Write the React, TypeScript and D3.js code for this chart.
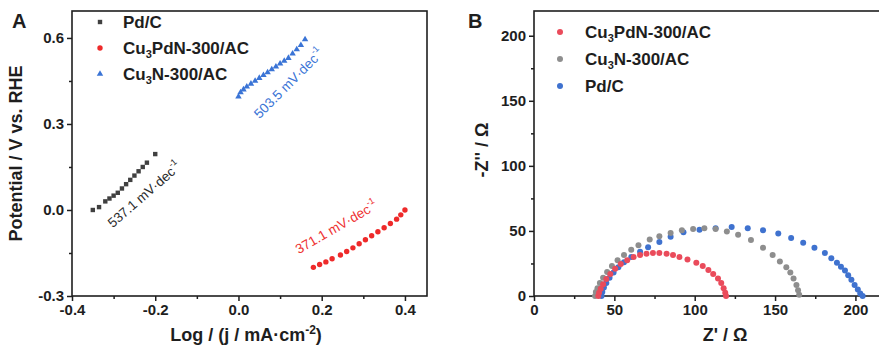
import React, { useEffect, useRef } from "react";
import * as d3 from "d3";

// Tafel data (Log j, potential)
const tafelPdC: [number, number][] = [
  [-0.35, 0.0], [-0.335, 0.01], [-0.32, 0.03], [-0.31, 0.04], [-0.3, 0.05], [-0.29, 0.06],
  [-0.28, 0.075], [-0.27, 0.09], [-0.26, 0.105], [-0.25, 0.12], [-0.24, 0.135],
  [-0.23, 0.15], [-0.22, 0.165], [-0.2, 0.195],
];
const tafelCu3PdN: [number, number][] = [
  [0.18, -0.2], [0.195, -0.19], [0.21, -0.181], [0.225, -0.17], [0.245, -0.157], [0.26, -0.145],
  [0.275, -0.132], [0.29, -0.118], [0.305, -0.104], [0.32, -0.09], [0.335, -0.076],
  [0.35, -0.062], [0.365, -0.047], [0.38, -0.032], [0.39, -0.017], [0.4, 0.0],
];
const tafelCu3N: [number, number][] = [
  [0.0, 0.395], [0.005, 0.41], [0.012, 0.42], [0.02, 0.43], [0.03, 0.44], [0.04, 0.45],
  [0.05, 0.46], [0.06, 0.47], [0.07, 0.48], [0.08, 0.49], [0.09, 0.5], [0.1, 0.51],
  [0.11, 0.52], [0.12, 0.53], [0.13, 0.545], [0.14, 0.56], [0.15, 0.575], [0.16, 0.595],
];
const tafelNotes = [
  { text: "537.1 mV·dec", x: -0.225, y: 0.052, angle: -41, color: "#2b2b2b" },
  { text: "503.5 mV·dec", x: 0.122, y: 0.44, angle: -45, color: "#3a74d6" },
  { text: "371.1 mV·dec", x: 0.236, y: -0.062, angle: -30, color: "#ee3333" },
];
const tafelXTicks = [-0.4, -0.2, 0.0, 0.2, 0.4];
const tafelYTicks = [-0.3, 0.0, 0.3, 0.6];

// Nyquist data (Z', -Z'')
const eisCu3PdN: [number, number][] = [
  [40, 0], [40.5, 2.5], [41.5, 5.5], [43, 9], [45, 13], [47.5, 17], [50.5, 21], [54, 24.5],
  [58, 27.5], [62, 30], [66, 31.5], [70, 32.5], [74, 33], [78, 33], [82.5, 32.5], [86.5, 31.5],
  [90.5, 30], [95.5, 28], [101, 25.5], [105, 23], [108.5, 20], [111.5, 17], [114.5, 13.5],
  [116.5, 10], [118, 6], [119, 2.5], [119.5, 0],
];
const eisCu3N: [number, number][] = [
  [38, 0], [38.5, 3], [39.5, 6], [41, 10], [43, 14], [45.5, 18.5], [48.5, 23], [52, 27.5],
  [56, 31.5], [60.5, 35.5], [65, 39], [72, 43.5], [78, 46], [85, 48.5], [92, 50.5], [99, 51.5],
  [106, 52], [113, 51.5], [120, 49.5], [127, 47], [135, 43], [142.5, 37], [148.5, 31.5],
  [153, 26.5], [157, 22], [159.5, 18], [161.5, 13.5], [163.3, 8.5], [164.3, 4.5], [165, 1],
];
const eisPdC: [number, number][] = [
  [42, 0], [42.5, 3], [43.5, 6.5], [45, 10], [47, 14], [49.5, 18], [52.5, 22], [56, 26],
  [60.5, 30], [66, 34], [71, 37.5], [78, 41.5], [85, 45.5], [93, 49], [103, 51], [113, 52],
  [123, 53], [133, 52], [142.5, 50.5], [152, 48], [160, 44.5], [167.5, 41], [174.5, 37],
  [181, 33], [185, 29], [188.5, 25.5], [191, 22.5], [193.5, 19.5], [195.5, 16], [197.5, 12.5],
  [199.5, 8.5], [201.5, 5], [203, 2], [204.5, 0],
];
const eisXTicks = [0, 50, 100, 150, 200];
const eisYTicks = [0, 50, 100, 150, 200];

const FONT = "'Liberation Sans', Arial, sans-serif";
const INK = "#1e1e1e";

const App = () => {
  const svgRef = useRef<SVGSVGElement>(null);

  useEffect(() => {
    const svg = d3.select(svgRef.current);
    svg.selectAll("*").remove();
    svg.attr("font-family", FONT);

    const frame = (g: any, x0: number, x1: number, y0: number, y1: number) => {
      g.append("rect")
        .attr("x", x0).attr("y", y0).attr("width", x1 - x0).attr("height", y1 - y0)
        .attr("fill", "none").attr("stroke", INK).attr("stroke-width", 1.6);
    };

    const styleAxis = (g: any) => {
      g.select(".domain").remove();
      g.selectAll("line").attr("stroke", INK).attr("stroke-width", 1.5);
      g.selectAll("text").attr("fill", INK).attr("font-size", 15).attr("font-weight", "bold").attr("font-family", FONT);
    };

    // ---------- Panel A ----------
    const a = svg.append("g");
    const ax = d3.scaleLinear().domain([-0.4, 0.453]).range([72, 427]);
    const ay = d3.scaleLinear().domain([-0.3, 0.694]).range([296, 11]);

    a.append("g").attr("transform", "translate(0,296)")
      .call(d3.axisBottom(ax).tickValues(d3.range(-0.3, 0.41, 0.2)).tickSize(3).tickFormat(() => ""))
      .call(styleAxis);
    a.append("g").attr("transform", "translate(0,296)")
      .call(d3.axisBottom(ax).tickValues(tafelXTicks).tickSize(5).tickPadding(3).tickFormat((d: any) => d.toFixed(1)))
      .call(styleAxis);
    a.append("g").attr("transform", "translate(72,0)")
      .call(d3.axisLeft(ay).tickValues([-0.15, 0.15, 0.45]).tickSize(3).tickFormat(() => ""))
      .call(styleAxis);
    a.append("g").attr("transform", "translate(72,0)")
      .call(d3.axisLeft(ay).tickValues(tafelYTicks).tickSize(5).tickPadding(3).tickFormat((d: any) => d.toFixed(1)))
      .call(styleAxis);
    frame(a, 72, 427, 11, 296);

    a.selectAll(".pdc").data(tafelPdC).join("rect")
      .attr("x", (d) => ax(d[0]) - 2.2).attr("y", (d) => ay(d[1]) - 2.2)
      .attr("width", 4.4).attr("height", 4.4).attr("fill", "#404040");
    a.selectAll(".cpn").data(tafelCu3PdN).join("circle")
      .attr("cx", (d) => ax(d[0])).attr("cy", (d) => ay(d[1])).attr("r", 2.7).attr("fill", "#ee2a2a");
    const tri = d3.symbol().type(d3.symbolTriangle).size(18);
    a.selectAll(".cn").data(tafelCu3N).join("path")
      .attr("d", tri as any)
      .attr("transform", (d) => `translate(${ax(d[0])},${ay(d[1])})`)
      .attr("fill", "#3a74d6");

    tafelNotes.forEach((n) => {
      const t = a.append("text")
        .attr("transform", `translate(${ax(n.x)},${ay(n.y)}) rotate(${n.angle})`)
        .attr("text-anchor", "middle").attr("dominant-baseline", "middle")
        .attr("font-size", 13.5).attr("fill", n.color);
      t.append("tspan").text(n.text);
      t.append("tspan").attr("dy", -5).attr("font-size", 9).text("-1");
    });

    // legend A
    const legA = [
      { name: ["Pd/C"], shape: "square", color: "#404040" },
      { name: ["Cu", "3", "PdN-300/AC"], shape: "circle", color: "#ee2a2a" },
      { name: ["Cu", "3", "N-300/AC"], shape: "triangle", color: "#3a74d6" },
    ];
    legA.forEach((l, i) => {
      const y = 22 + i * 26;
      if (l.shape === "square") a.append("rect").attr("x", 97.8).attr("y", y - 2.2).attr("width", 4.4).attr("height", 4.4).attr("fill", l.color);
      if (l.shape === "circle") a.append("circle").attr("cx", 100).attr("cy", y).attr("r", 2.7).attr("fill", l.color);
      if (l.shape === "triangle") a.append("path").attr("d", tri as any).attr("transform", `translate(100,${y})`).attr("fill", l.color);
      const t = a.append("text").attr("x", 123).attr("y", y + 6).attr("font-size", 17).attr("font-weight", "bold").attr("fill", INK);
      t.append("tspan").text(l.name[0]);
      if (l.name.length > 1) {
        t.append("tspan").attr("dy", 4).attr("font-size", 11).text(l.name[1]);
        t.append("tspan").attr("dy", -4).text(l.name[2]);
      }
    });

    a.append("text").attr("x", 12).attr("y", 28).attr("font-size", 20).attr("font-weight", "bold").attr("fill", INK).text("A");
    a.append("text")
      .attr("transform", `translate(22,${(11 + 296) / 2}) rotate(-90)`)
      .attr("text-anchor", "middle").attr("font-size", 18).attr("font-weight", "bold").attr("fill", INK)
      .text("Potential / V vs. RHE");
    const xt = a.append("text").attr("x", 246).attr("y", 341).attr("text-anchor", "middle")
      .attr("font-size", 18).attr("font-weight", "bold").attr("fill", INK);
    xt.append("tspan").text("Log / (j / mA·cm");
    xt.append("tspan").attr("dy", -7).attr("font-size", 12).text("-2");
    xt.append("tspan").attr("dy", 7).text(")");

    // ---------- Panel B ----------
    const b = svg.append("g");
    const bx = d3.scaleLinear().domain([0, 240]).range([534, 919.7]);
    const by = d3.scaleLinear().domain([0, 219]).range([296, 11]);

    b.append("g").attr("transform", "translate(0,296)")
      .call(d3.axisBottom(bx).tickValues([25, 75, 125, 175]).tickSize(3).tickFormat(() => ""))
      .call(styleAxis);
    b.append("g").attr("transform", "translate(0,296)")
      .call(d3.axisBottom(bx).tickValues(eisXTicks).tickSize(5).tickPadding(3).tickFormat((d: any) => String(d)))
      .call(styleAxis);
    b.append("g").attr("transform", "translate(534,0)")
      .call(d3.axisLeft(by).tickValues([25, 75, 125, 175]).tickSize(3).tickFormat(() => ""))
      .call(styleAxis);
    b.append("g").attr("transform", "translate(534,0)")
      .call(d3.axisLeft(by).tickValues(eisYTicks).tickSize(5).tickPadding(3).tickFormat((d: any) => String(d)))
      .call(styleAxis);
    frame(b, 534, 919.7, 11, 296);

    const eisSeries = [
      { data: eisPdC, color: "#3f72cf" },
      { data: eisCu3N, color: "#8e8e8e" },
      { data: eisCu3PdN, color: "#ea4b5b" },
    ];
    eisSeries.forEach((s) => {
      b.append("g").selectAll("circle").data(s.data).join("circle")
        .attr("cx", (d) => bx(d[0])).attr("cy", (d) => by(d[1])).attr("r", 3).attr("fill", s.color);
    });

    const legB = [
      { name: ["Cu", "3", "PdN-300/AC"], color: "#ea4b5b" },
      { name: ["Cu", "3", "N-300/AC"], color: "#8e8e8e" },
      { name: ["Pd/C"], color: "#3f72cf" },
    ];
    legB.forEach((l, i) => {
      const y = 32 + i * 27;
      b.append("circle").attr("cx", 560).attr("cy", y).attr("r", 3).attr("fill", l.color);
      const t = b.append("text").attr("x", 585).attr("y", y + 6).attr("font-size", 17).attr("font-weight", "bold").attr("fill", INK);
      t.append("tspan").text(l.name[0]);
      if (l.name.length > 1) {
        t.append("tspan").attr("dy", 4).attr("font-size", 11).text(l.name[1]);
        t.append("tspan").attr("dy", -4).text(l.name[2]);
      }
    });

    b.append("text").attr("x", 468).attr("y", 28).attr("font-size", 20).attr("font-weight", "bold").attr("fill", INK).text("B");
    b.append("text")
      .attr("transform", `translate(488,150) rotate(-90)`)
      .attr("text-anchor", "middle").attr("font-size", 18).attr("font-weight", "bold").attr("fill", INK)
      .text("-Z'' / Ω");
    b.append("text").attr("x", 725).attr("y", 341).attr("text-anchor", "middle")
      .attr("font-size", 18).attr("font-weight", "bold").attr("fill", INK).text("Z' / Ω");
  }, []);

  return (
    <svg
      ref={svgRef}
      width={879}
      height={356}
      style={{ position: "absolute", left: 0, top: 0, background: "#fff" }}
    />
  );
};

export default App;
